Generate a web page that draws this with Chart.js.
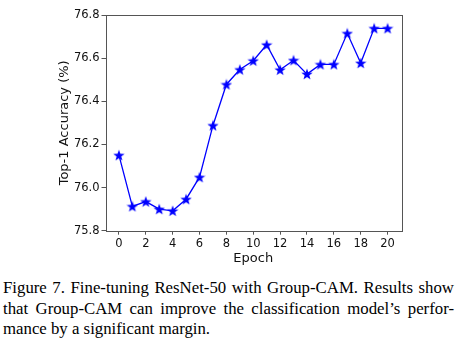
<!DOCTYPE html>
<html>
<head>
<meta charset="utf-8">
<script src="https://cdn.jsdelivr.net/npm/chart.js@4"></script>
<style>
  body { margin: 0; background: #fff; width: 460px; height: 349px; position: relative; overflow: hidden; }
  #grafica { position: absolute; left: 0; top: 0; }
  #caption {
    position: absolute; left: 3px; top: 278px; width: 451px;
    font-family: "Liberation Serif", "Times New Roman", serif;
    font-size: 16.8px; line-height: 20.5px; color: #000;
  }
  #caption .j { text-align: justify; text-align-last: justify; }
</style>
</head>
<body>
<canvas id="grafica" width="460" height="268"></canvas>
<div id="caption">
  <div class="j">Figure 7. Fine-tuning ResNet-50 with Group-CAM. Results show</div>
  <div class="j">that Group-CAM can improve the classification model’s perfor-</div>
  <div>mance by a significant margin.</div>
</div>
<script>
// valores
const epochs = [0, 1, 2, 3, 4, 5, 6, 7, 8, 9, 10, 11, 12, 13, 14, 15, 16, 17, 18, 19, 20];
const accuracy = [76.15, 75.913, 75.935, 75.90, 75.892, 75.946, 76.048, 76.288, 76.478, 76.547, 76.588,
                  76.662, 76.546, 76.59, 76.526, 76.571, 76.571, 76.715, 76.577, 76.738, 76.738];
const xTicks = [0, 2, 4, 6, 8, 10, 12, 14, 16, 18, 20];
const yTicks = [75.8, 76.0, 76.2, 76.4, 76.6, 76.8];

const azul = '#0000ff';
const marco = '#555';
const texto = '#111';

// estrella rellena tipo matplotlib
function crearEstrella(size) {
    const c = document.createElement('canvas');
    c.width = size; c.height = size;
    const g = c.getContext('2d');
    const cx = size / 2, cy = size / 2 + 0.5;
    const rOut = size / 2, rIn = rOut * 0.4;
    g.beginPath();
    for (let i = 0; i < 10; i++) {
        const r = i % 2 === 0 ? rOut : rIn;
        const a = -Math.PI / 2 + i * Math.PI / 5;
        const px = cx + r * Math.cos(a), py = cy + r * Math.sin(a);
        if (i === 0) g.moveTo(px, py); else g.lineTo(px, py);
    }
    g.closePath();
    g.fillStyle = azul;
    g.fill();
    return c;
}

const marcoPlugin = {
    id: 'marco',
    afterDraw(chart) {
        const {ctx, chartArea: a} = chart;
        ctx.save();
        ctx.strokeStyle = marco;
        ctx.lineWidth = 1;
        ctx.strokeRect(Math.round(a.left) + 0.5, Math.round(a.top) + 0.5,
                       Math.round(a.right - a.left), Math.round(a.bottom - a.top));
        ctx.restore();
    }
};

const fuenteTicks = { family: 'DejaVu Sans', size: 11.5 };
const fuenteTitulo = { family: 'DejaVu Sans', size: 13 };
const ctx = document.getElementById('grafica').getContext('2d');

new Chart(ctx, {
    type: 'line',
    data: {
        datasets: [{
            data: epochs.map((e, i) => ({ x: e, y: accuracy[i] })),
            borderColor: azul,
            borderWidth: 1.3,
            pointStyle: crearEstrella(12),
            tension: 0,
            fill: false,
        }]
    },
    options: {
        responsive: false,
        animation: false,
        events: [],
        layout: { padding: { top: 15, right: 59, left: 0, bottom: 0 } },
        plugins: { legend: { display: false }, tooltip: { enabled: false } },
        scales: {
            x: {
                type: 'linear',
                min: -1,
                max: 21,
                afterBuildTicks: (s) => { s.ticks = xTicks.map(v => ({ value: v })); },
                afterFit: (s) => { s.height = 37.3; },
                grid: { drawOnChartArea: false, drawTicks: true, tickLength: 4, color: marco },
                border: { display: false },
                ticks: { font: fuenteTicks, color: texto, padding: 2, maxRotation: 0, callback: v => String(v) },
                title: { display: true, text: 'Epoch', font: fuenteTitulo, color: texto, padding: { top: 0, bottom: 2 } },
            },
            y: {
                min: 75.8,
                max: 76.8,
                afterBuildTicks: (s) => { s.ticks = yTicks.map(v => ({ value: v })); },
                afterFit: (s) => { s.width = 105.5; },
                grid: { drawOnChartArea: false, drawTicks: true, tickLength: 4, color: marco },
                border: { display: false },
                ticks: { font: fuenteTicks, color: texto, padding: 2, callback: v => Number(v).toFixed(1) },
                title: { display: true, text: 'Top-1 Accuracy (%)', font: fuenteTitulo, color: texto, padding: { top: 57, bottom: 0 } },
            }
        }
    },
    plugins: [marcoPlugin]
});
</script>
</body>
</html>
